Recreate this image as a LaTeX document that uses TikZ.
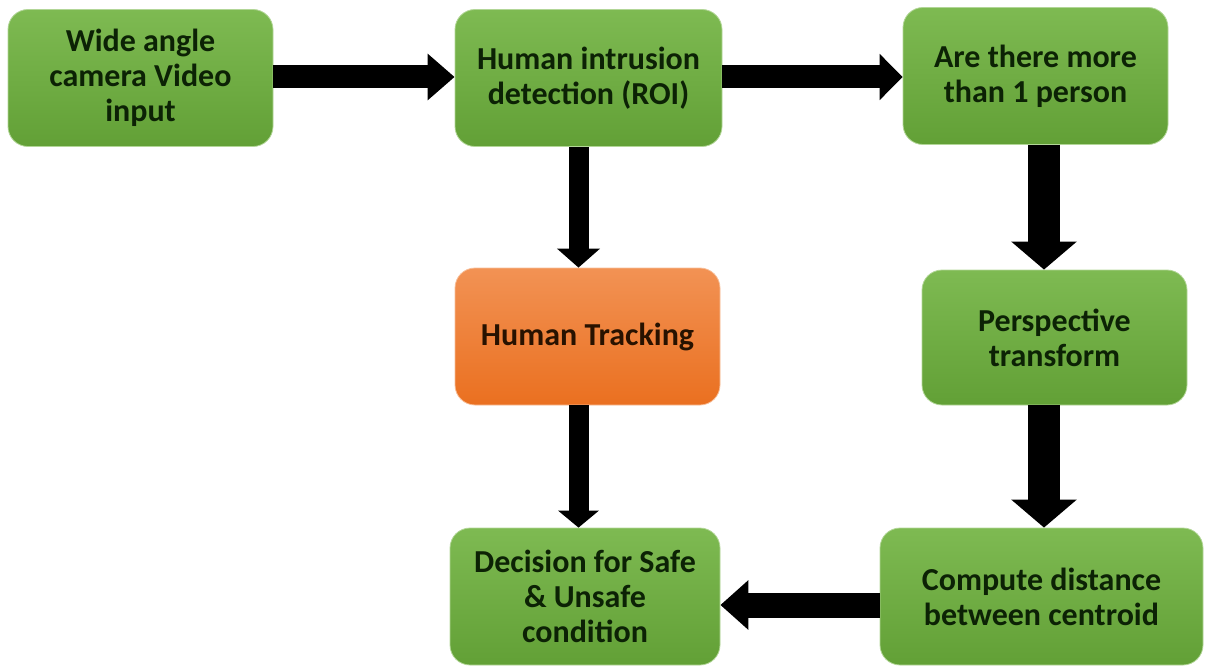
\documentclass[tikz,border=0pt]{standalone}
\usepackage{fontspec}
\setmainfont{Carlito}
\usetikzlibrary{arrows.meta}
\definecolor{gtop}{RGB}{126,186,82}
\definecolor{gbot}{RGB}{98,160,54}
\definecolor{otop}{RGB}{242,146,84}
\definecolor{obot}{RGB}{234,112,32}
\definecolor{gtext}{RGB}{12,34,5}
\definecolor{otext}{RGB}{40,18,0}
\tikzset{
  stepbox/.style={rectangle, rounded corners=20pt, top color=gtop, bottom color=gbot,
    draw=gtop!60!white, line width=0.8pt, align=center, text=gtext,
    font=\fontsize{32}{35}\selectfont\bfseries, inner sep=0pt,
    minimum width=265pt, minimum height=137pt},
  orangebox/.style={stepbox, top color=otop, bottom color=obot, draw=otop!60!white, text=otext},
}
\begin{document}
\begin{tikzpicture}[x=1pt,y=-1pt]
\useasboundingbox (0,0) rectangle (1205,666);
\node[stepbox] (b1) at (140.5,78) {Wide angle\\camera Video\\input};
\node[stepbox, minimum width=267pt] (b2) at (588.5,78) {Human intrusion\\detection (ROI)};
\node[stepbox] (b3) at (1035.5,76) {Are there more\\than 1 person};
\node[orangebox] (b4) at (587.5,336.5) {Human Tracking};
\node[stepbox, minimum height=135pt] (b5) at (1054.5,337.5) {Perspective\\transform};
\node[stepbox, minimum width=270pt] (b6) at (585,596.5) {Decision for Safe\\\& Unsafe\\condition};
\node[stepbox, minimum width=323pt] (b7) at (1041.5,596.5) {Compute distance\\between centroid};

\draw[line width=23pt, -{Triangle[width=45pt,length=27pt]}] ([yshift=1pt]b1.east) -- ([yshift=1pt]b2.west);
\draw[line width=23pt, -{Triangle[width=45pt,length=23pt]}] ([yshift=1pt]b2.east) -- ([yshift=1pt]b2.east -| b3.west);
\draw[line width=20pt, -{Triangle[width=42pt,length=19pt]}] ([xshift=-10pt]b2.south) -- ([xshift=-9pt]b4.north);
\draw[line width=20pt, -{Triangle[width=40pt,length=17pt]}] ([xshift=-9pt]b4.south) -- ([xshift=-6.5pt]b6.north);
\draw[line width=32pt, -{Triangle[width=64pt,length=28pt]}] ([xshift=8.5pt]b3.south) -- ([xshift=-10.5pt]b5.north);
\draw[line width=32pt, -{Triangle[width=64pt,length=28pt]}] ([xshift=-10.5pt]b5.south) -- ([xshift=2.5pt]b7.north);
\draw[line width=25pt, -{Triangle[width=48pt,length=28pt]}] ([yshift=-8.5pt]b7.west) -- ([yshift=-8.5pt]b6.east);
\end{tikzpicture}
\end{document}
